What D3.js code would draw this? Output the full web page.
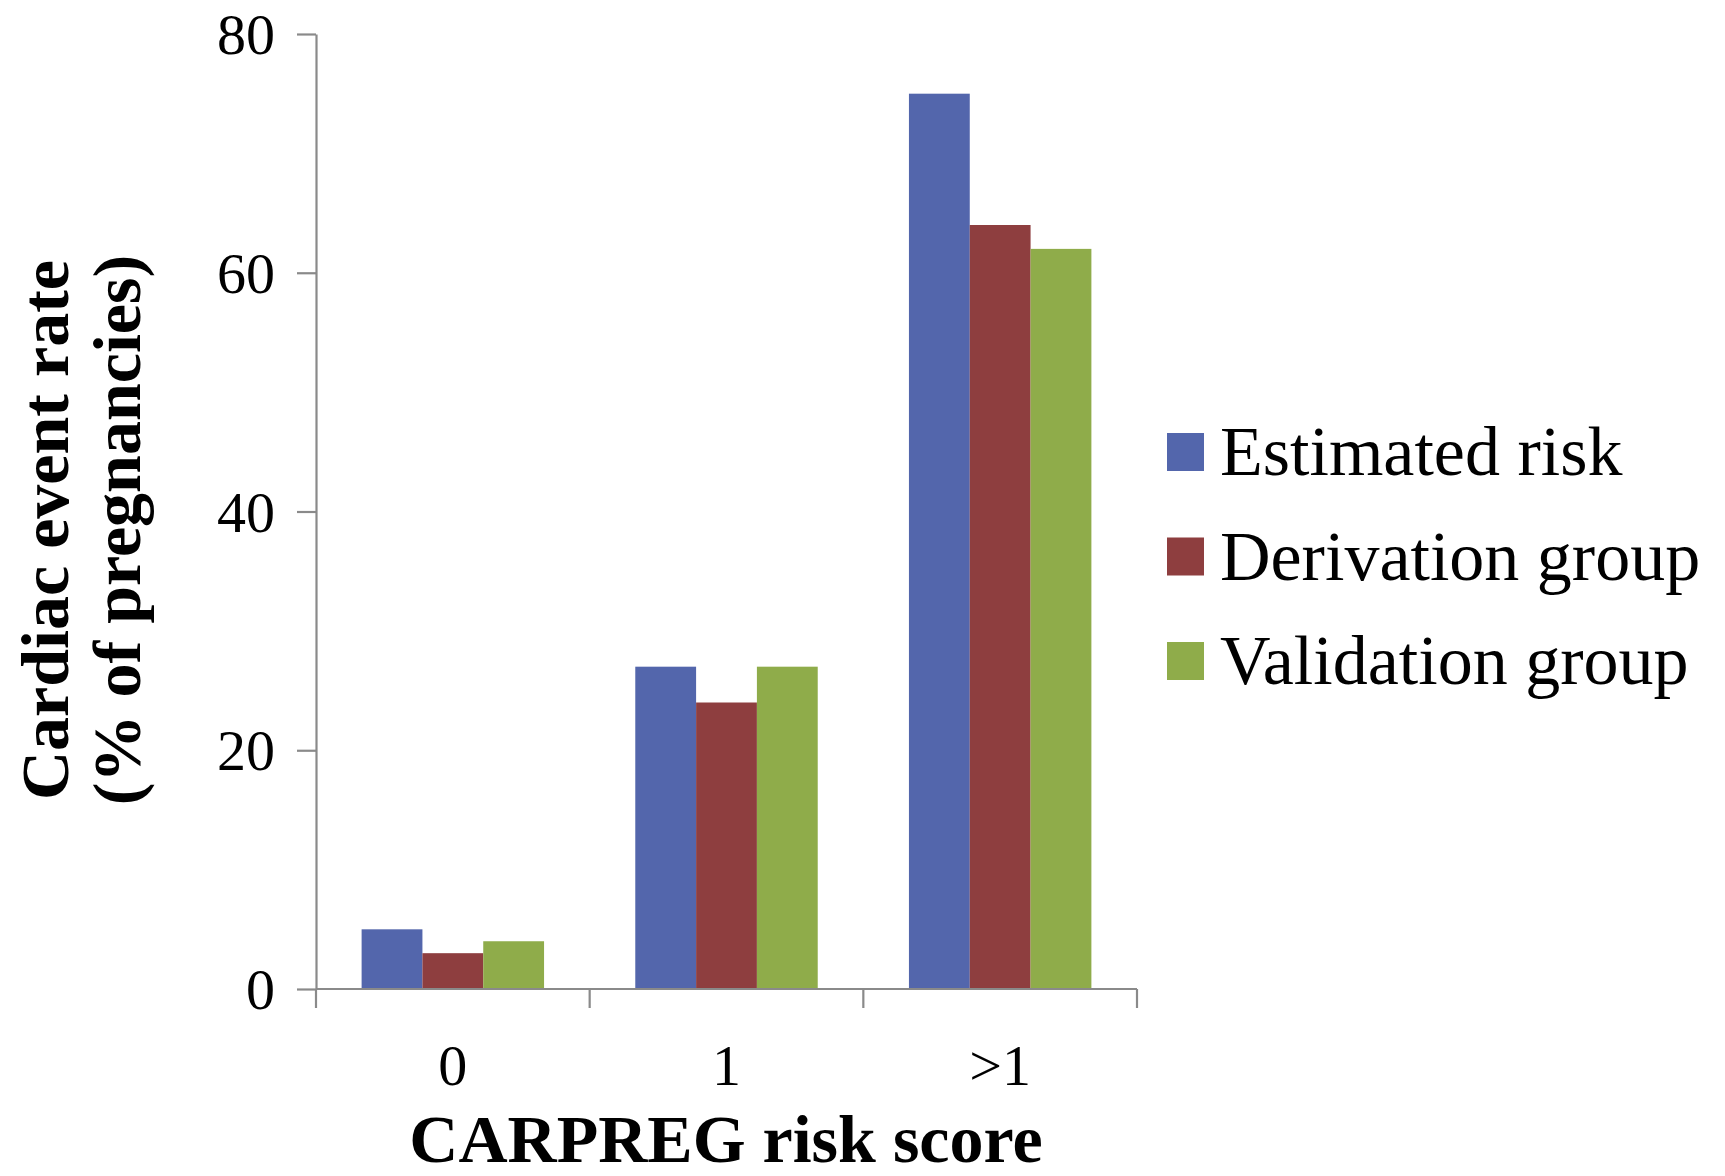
<!DOCTYPE html>
<html>
<head>
<meta charset="utf-8">
<script src="https://cdn.jsdelivr.net/npm/d3@7"></script>
<style>
  html, body { margin: 0; padding: 0; background: #fff; }
  svg { display: block; }
  text { font-family: "Liberation Serif", "Times New Roman", serif; fill: #000; }
</style>
</head>
<body>
<svg id="chart" width="1725" height="1176"></svg>
<script>
const categories = ["0", "1", ">1"];
const seriesNames = ["Estimated risk", "Derivation group", "Validation group"];
const estimatedRisk = [5, 27, 75];
const derivationGroup = [3, 24, 64];
const validationGroup = [4, 27, 62];
const yTicks = [0, 20, 40, 60, 80];
const colors = ["#5366AC", "#8E3E3F", "#8FAC4A"];

const seriesValues = [estimatedRisk, derivationGroup, validationGroup];
const data = categories.map((c, i) => ({
  cat: c,
  vals: seriesNames.map((s, j) => ({ series: s, value: seriesValues[j][i], color: colors[j] }))
}));

const svg = d3.select("#chart");
const plot = { left: 316, right: 1137, top: 34, bottom: 989 };

const x = d3.scaleBand().domain(categories).range([plot.left, plot.right]).padding(0);
const step = x.step();
const barW = step / 4.5;
const xSub = d3.scaleBand().domain(seriesNames)
  .range([barW * 0.75, barW * 3.75]).padding(0);
const y = d3.scaleLinear().domain([0, 80]).range([plot.bottom, plot.top]);

const axisColor = "#8a8a8a";

// bars
const groups = svg.append("g").selectAll("g").data(data).join("g")
  .attr("transform", d => `translate(${x(d.cat)},0)`);
groups.selectAll("rect").data(d => d.vals).join("rect")
  .attr("x", d => xSub(d.series))
  .attr("width", xSub.bandwidth())
  .attr("y", d => y(d.value))
  .attr("height", d => y(0) - y(d.value))
  .attr("fill", d => d.color);

// y axis
const yAxis = svg.append("g")
  .attr("transform", `translate(${plot.left},0)`)
  .call(d3.axisLeft(y).tickValues(yTicks).tickSize(19).tickSizeOuter(0).tickPadding(22).tickFormat(d3.format("d")));
yAxis.select(".domain").attr("stroke", axisColor).attr("stroke-width", 2.2);
yAxis.selectAll(".tick line").attr("stroke", axisColor).attr("stroke-width", 2.2);
yAxis.selectAll(".tick text")
  .style("font-family", '"Liberation Serif", "Times New Roman", serif')
  .style("font-size", "58px").attr("fill", "#000").attr("dy", "0.34em");

// x axis line + tick marks at band boundaries
const boundaries = categories.map(c => x(c)).concat([x(categories[categories.length - 1]) + step]);
svg.append("line")
  .attr("x1", plot.left).attr("x2", plot.right)
  .attr("y1", y(0)).attr("y2", y(0))
  .attr("stroke", axisColor).attr("stroke-width", 2.2);
svg.append("g").selectAll("line").data(boundaries).join("line")
  .attr("x1", d => d).attr("x2", d => d)
  .attr("y1", y(0)).attr("y2", y(0) + 19)
  .attr("stroke", axisColor).attr("stroke-width", 2.2);

// x tick labels
svg.append("g").selectAll("text").data(categories).join("text")
  .attr("x", d => x(d) + step / 2)
  .attr("y", 1085)
  .attr("text-anchor", "middle")
  .style("font-size", "58px")
  .text(d => d);

// x title
svg.append("text")
  .attr("x", 726).attr("y", 1162)
  .attr("text-anchor", "middle")
  .style("font-size", "68px").style("font-weight", "bold")
  .text("CARPREG risk score");

// y title
const yTitle = svg.append("text")
  .attr("transform", "translate(0,530) rotate(-90)")
  .attr("text-anchor", "middle")
  .style("font-size", "68px").style("font-weight", "bold");
yTitle.append("tspan").attr("x", 0).attr("y", 68).text("Cardiac event rate");
yTitle.append("tspan").attr("x", 0).attr("y", 140).text("(% of pregnancies)");

// legend
const legend = svg.append("g").selectAll("g").data(seriesNames).join("g")
  .attr("transform", (d, i) => `translate(1167,${433 + i * 104.5})`);
legend.append("rect")
  .attr("width", 37).attr("height", 38)
  .attr("fill", (d, i) => colors[i]);
legend.append("text")
  .attr("x", 53).attr("y", 42)
  .style("font-size", "70px")
  .text(d => d);
</script>
</body>
</html>
